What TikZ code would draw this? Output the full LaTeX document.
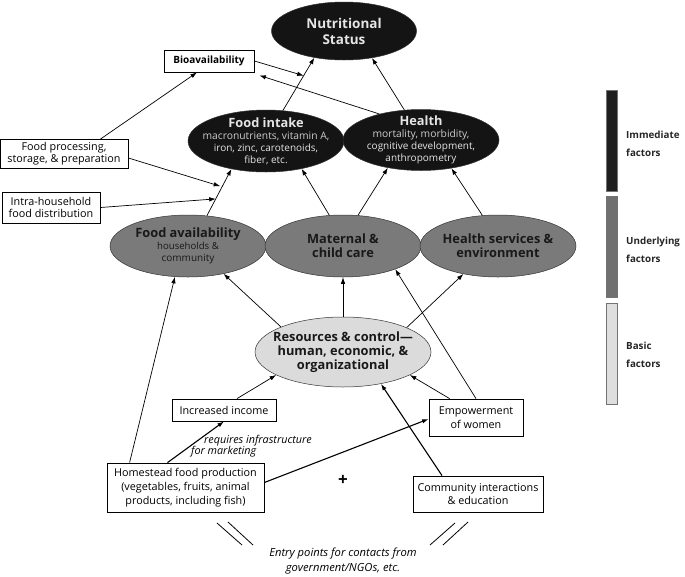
\documentclass[tikz,border=0pt]{standalone}
\usepackage{fontspec}
\setmainfont{Open Sans}
\usetikzlibrary{shapes.geometric,arrows.meta,calc}
\newcommand\fsz[2]{\fontsize{#1}{#2}\selectfont}
\begin{document}
\begin{tikzpicture}[x=1pt,y=-1pt,
  ell/.style={ellipse, draw=black!80, line width=0.5pt, inner sep=0pt},
  dk/.style={ell, fill=black!92},
  md/.style={ell, fill=black!52},
  lt/.style={ell, fill=black!14},
  bx/.style={draw, line width=0.8pt, inner sep=0pt, align=center, font=\fsz{10.8}{12.5}},
  arr/.style={-{Latex[length=6.5pt,width=4.5pt]}, line width=0.7pt},
  tarr/.style={arr, line width=1.1pt},
  wlab/.style={align=center, inner sep=0pt, text=white!90!black},
  blab/.style={align=center, inner sep=0pt, text=black!90},
  legbar/.style={draw=black!55, line width=0.4pt, minimum width=11, minimum height=101, inner sep=0pt},
  legtxt/.style={anchor=west, align=left, inner sep=0pt, font=\fsz{9.8}{18}\bfseries, text=black!85}
]
\useasboundingbox (0,0) rectangle (685,576);

% immediate level
\node[dk, minimum width=145, minimum height=58,
  label={[wlab, font=\fsz{13.5}{16}\bfseries]center:{Nutritional\\Status}}] (ns) at (344,31) {};
\node[dk, minimum width=156, minimum height=62,
  label={[wlab]center:{\fsz{12.8}{14}\bfseries Food intake\\\fsz{10.3}{11.8}\mdseries\color{white!80!black} macronutrients, vitamin A,\\iron, zinc, carotenoids,\\fiber, etc.}}] (fi) at (266,141) {};
\node[dk, minimum width=156, minimum height=61,
  label={[wlab]center:{\fsz{12.8}{14}\bfseries Health\\\fsz{10.3}{11.8}\mdseries\color{white!80!black} mortality, morbidity,\\cognitive development,\\anthropometry}}] (he) at (421,140) {};

% underlying level
\node[md, minimum width=156, minimum height=62,
  label={[blab]center:{\fsz{12.8}{14}\bfseries Food availability\\\fsz{9.6}{10.6}\mdseries households \&\\community}}] (fa) at (188,246) {};
\node[md, minimum width=156, minimum height=62,
  label={[blab, font=\fsz{12.8}{14}\bfseries]center:{Maternal \&\\child care}}] (mc) at (343,246) {};
\node[md, minimum width=156, minimum height=62,
  label={[blab, font=\fsz{12.8}{14}\bfseries]center:{Health services \&\\environment}}] (hs) at (498,246) {};

% basic level
\node[lt, minimum width=176, minimum height=70,
  label={[blab, font=\fsz{12.8}{14}\bfseries]center:{Resources \& control---\\human, economic, \&\\organizational}}] (rc) at (343,352) {};

% boxes
\node[bx, minimum width=90, minimum height=22, font=\fsz{10}{12.5}\bfseries] (bio) at (209,61) {Bioavailability};
\node[bx, minimum width=128, minimum height=29, font=\fsz{10.8}{11.8}] (fp) at (64,154) {Food processing,\\storage, \& preparation};
\node[bx, minimum width=98, minimum height=31, font=\fsz{10.8}{11.8}] (ih) at (51,207.5) {Intra-household\\food distribution};
\node[bx, minimum width=104, minimum height=22] (ii) at (224,410) {Increased income};
\node[bx, minimum width=94, minimum height=37, font=\fsz{10.8}{14}] (ew) at (476,417.5) {Empowerment\\of women};
\node[bx, minimum width=157, minimum height=49, font=\fsz{10.8}{14}] (hf) at (185.5,487.5) {Homestead food production\\(vegetables, fruits, animal\\products, including fish)};
\node[bx, minimum width=130, minimum height=36, font=\fsz{10.8}{13}] (ce) at (478,494) {Community interactions\\\& education};

% junctions
\coordinate (j1) at ($(fi.61)!0.66!(ns.222)$);
\coordinate (j2) at ($(fa.58)!0.62!(fi.219)$);
\coordinate (j3) at ($(fa.58)!0.36!(fi.219)$);

% arrows to nutritional status
\draw[arr] (fi.61) -- (ns.222);
\draw[arr] (he.119) -- (ns.316);
\draw[arr] (bio.east) -- (j1);
\draw[arr] (he.148) -- ([shift={(5,3)}]bio.south east);
\draw[arr] ([shift={(-28,0)}]fp.north east) -- ([shift={(-12,0)}]bio.south);
\draw[arr, shorten >=2pt] ([shift={(0,4)}]fp.east) -- (j2);
\draw[arr] (ih.east) -- (j3);

% underlying to immediate
\draw[arr] (fa.58) -- (fi.219);
\draw[arr] (mc.114) -- (fi.322);
\draw[arr] (mc.64) -- (he.220);
\draw[arr] (hs.117) -- (he.317);

% basic to underlying
\draw[arr] (rc.158) -- (fa.322);
\draw[arr] (rc.north) -- (mc.south);
\draw[arr] (rc.21) -- (hs.219);

% homestead pathways
\draw[tarr] ([shift={(-18,0)}]hf.north) -- (ii.south);
\node[anchor=north west, align=left, inner sep=0pt, font=\fsz{10.8}{11}\itshape] (rq) at (191,435) {\hspace*{13pt}requires infrastructure\\for marketing};
\draw[arr] ([shift={(23,0)}]hf.north west) -- (fa.247);
\draw[arr] ([shift={(13,0)}]ii.north) -- (rc.199);
\draw[tarr] ([shift={(0,-5)}]hf.east) -- ([shift={(0,1.5)}]ew.west);
\draw[tarr] ([shift={(-36,0)}]ce.north) -- (rc.320);
\draw[arr] ([shift={(21,0)}]ew.north west) -- (rc.341);
\draw[arr] (ew.north) -- (mc.336);

% plus
\node[font=\fsz{17}{17}\bfseries] (plus) at (343,480) {+};

% entry point slashes
\draw[line width=0.8pt] (217,523) -- (242,545) (228,522) -- (253,545);
\draw[line width=0.8pt] (430,545) -- (455,523) (443,545) -- (468,522);
\node[align=center, font=\fsz{11.2}{15}\itshape, inner sep=0pt] (entry) at (343,561) {Entry points for contacts from\\government/NGOs, etc.};

% legend
\node[legbar, fill=black!88] (lg1) at (611.5,140.5) {};
\node[legbar, fill=black!56] (lg2) at (611.5,247) {};
\node[legbar, fill=black!13] (lg3) at (611.5,353.5) {};
\node[legtxt] (lt1) at (626,144) {Immediate\\factors};
\node[legtxt] (lt2) at (626,250) {Underlying\\factors};
\node[legtxt] (lt3) at (626,355) {Basic\\factors};
\end{tikzpicture}
\end{document}
